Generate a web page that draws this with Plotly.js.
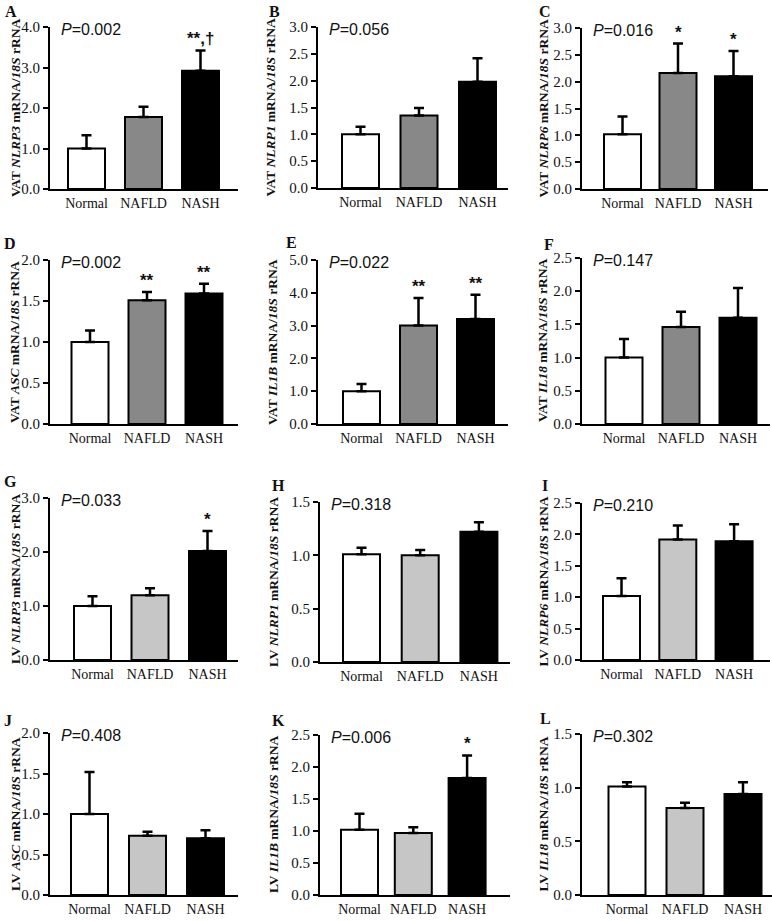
<!DOCTYPE html>
<html>
<head>
<meta charset="utf-8">
<script src="https://cdn.plot.ly/plotly-3.0.1.min.js"></script>
<style>html,body{margin:0;padding:0;background:#fff;}#chart{width:772px;height:921px;}</style>
</head>
<body>
<div id="chart"></div>
<script>
// ---------------- DATA ----------------
const categories = ['Normal', 'NAFLD', 'NASH'];
const panelLetters = ['A','B','C','D','E','F','G','H','I','J','K','L'];
const tissues = ['VAT','VAT','VAT','VAT','VAT','VAT','LV','LV','LV','LV','LV','LV'];
const genes = ['NLRP3','NLRP1','NLRP6','ASC','IL1B','IL18','NLRP3','NLRP1','NLRP6','ASC','IL1B','IL18'];
const pValues = ['0.002','0.056','0.016','0.002','0.022','0.147','0.033','0.318','0.210','0.408','0.006','0.302'];

const vatNLRP3 = [1.00, 1.78, 2.92];  const vatNLRP3Err = [0.33, 0.25, 0.50];  const vatNLRP3Sig = ['', '', '**,†'];
const vatNLRP1 = [1.00, 1.35, 1.98];  const vatNLRP1Err = [0.14, 0.14, 0.44];  const vatNLRP1Sig = ['', '', ''];
const vatNLRP6 = [1.02, 2.16, 2.10];  const vatNLRP6Err = [0.33, 0.55, 0.47];  const vatNLRP6Sig = ['', '*', '*'];
const vatASC   = [1.00, 1.51, 1.59];  const vatASCErr   = [0.14, 0.10, 0.12];  const vatASCSig   = ['', '**', '**'];
const vatIL1B  = [1.00, 3.00, 3.20];  const vatIL1BErr  = [0.22, 0.84, 0.74];  const vatIL1BSig  = ['', '**', '**'];
const vatIL18  = [1.00, 1.46, 1.60];  const vatIL18Err  = [0.28, 0.23, 0.45];  const vatIL18Sig  = ['', '', ''];
const lvNLRP3  = [1.00, 1.20, 2.02];  const lvNLRP3Err  = [0.18, 0.13, 0.37];  const lvNLRP3Sig  = ['', '', '*'];
const lvNLRP1  = [1.01, 1.00, 1.22];  const lvNLRP1Err  = [0.06, 0.05, 0.09];  const lvNLRP1Sig  = ['', '', ''];
const lvNLRP6  = [1.02, 1.92, 1.89];  const lvNLRP6Err  = [0.28, 0.22, 0.27];  const lvNLRP6Sig  = ['', '', ''];
const lvASC    = [1.00, 0.73, 0.70];  const lvASCErr    = [0.52, 0.05, 0.10];  const lvASCSig    = ['', '', ''];
const lvIL1B   = [1.02, 0.97, 1.83];  const lvIL1BErr   = [0.25, 0.09, 0.35];  const lvIL1BSig   = ['', '', '*'];
const lvIL18   = [1.01, 0.81, 0.94];  const lvIL18Err   = [0.04, 0.05, 0.11];  const lvIL18Sig   = ['', '', ''];

const yMax   = [4, 3, 3, 2, 5, 2.5, 3, 1.5, 2.5, 2, 2.5, 1.5];
const yDtick = [1, 0.5, 0.5, 0.5, 1, 0.5, 1, 0.5, 0.5, 0.5, 0.5, 0.5];

// ---------------- ASSEMBLY ----------------
const means = [vatNLRP3, vatNLRP1, vatNLRP6, vatASC, vatIL1B, vatIL18, lvNLRP3, lvNLRP1, lvNLRP6, lvASC, lvIL1B, lvIL18];
const errs  = [vatNLRP3Err, vatNLRP1Err, vatNLRP6Err, vatASCErr, vatIL1BErr, vatIL18Err, lvNLRP3Err, lvNLRP1Err, lvNLRP6Err, lvASCErr, lvIL1BErr, lvIL18Err];
const sigs  = [vatNLRP3Sig, vatNLRP1Sig, vatNLRP6Sig, vatASCSig, vatIL1BSig, vatIL18Sig, lvNLRP3Sig, lvNLRP1Sig, lvNLRP6Sig, lvASCSig, lvIL1BSig, lvIL18Sig];

const W = 772, H = 921;
// geometry per panel in px: [axisX, firstBarCenter, spacing, xEnd, yTop, yBot, titleX, letterX, letterY]
const geom = [
  [50, 86.5, 57, 238, 27, 189, 15, 3, 1],
  [318, 360.5, 58.5, 508, 27, 188, 270, 267, 1],
  [582, 622.5, 55.5, 768, 28, 189, 543, 537, 1],
  [50, 90, 57, 238, 260, 424, 15, 2, 233],
  [318, 361.5, 57, 508, 260, 424, 273, 284, 232],
  [582, 624, 57, 770, 258, 424, 543, 542, 234],
  [50, 92.5, 57.5, 238, 498, 660, 15, 2, 471],
  [320, 361.5, 58.7, 510, 502, 662, 273, 270, 475],
  [582, 621.5, 56.3, 770, 503, 660, 543, 540, 475],
  [50, 89.5, 58, 238, 733, 895, 15, 2, 710],
  [320, 359.5, 53.8, 510, 735, 895, 273, 270, 710],
  [582, 627, 58, 772, 734, 895, 543, 538, 708]
];
const barPx = 37;
const serif = 'Liberation Serif, Times New Roman, serif';
const sans = 'Liberation Sans, Arial, sans-serif';

const traces = [];
const annotations = [];
const layout = {
  width: W, height: H,
  margin: {l: 0, r: 0, t: 0, b: 0},
  paper_bgcolor: '#fff', plot_bgcolor: 'rgba(0,0,0,0)',
  showlegend: false,
  font: {family: serif, color: '#111', size: 14},
  annotations: annotations
};

for (let i = 0; i < 12; i++) {
  const g = geom[i];
  const [axX, c0, sp, xEnd, yTop, yBot, tX, lX, lY] = g;
  const n = i + 1;
  const xa = 'xaxis' + (n === 1 ? '' : n), ya = 'yaxis' + (n === 1 ? '' : n);
  const xr = 'x' + (n === 1 ? '' : n), yr = 'y' + (n === 1 ? '' : n);
  const lv = tissues[i] === 'LV';
  traces.push({
    type: 'bar', x: categories, y: means[i], xaxis: xr, yaxis: yr,
    width: barPx / sp,
    marker: {color: ['#ffffff', lv ? '#c6c6c6' : '#888888', '#000000'], line: {color: '#000', width: 2}},
    error_y: {type: 'data', symmetric: false, array: errs[i], arrayminus: [0, 0, 0], color: '#000', thickness: 2.5, width: 5},
    hoverinfo: 'skip'
  });
  layout[xa] = {
    domain: [axX / W, xEnd / W], anchor: yr,
    type: 'category', range: [(axX - c0) / sp, (xEnd - c0) / sp],
    showline: true, linecolor: '#000', linewidth: 2, ticks: '', showgrid: false, zeroline: false,
    tickfont: {family: serif, size: 14, color: '#111'}, fixedrange: true
  };
  layout[ya] = {
    domain: [1 - yBot / H, 1 - yTop / H], anchor: xr,
    range: [0, yMax[i]], dtick: yDtick[i], tick0: 0, tickformat: '.1f',
    showline: true, linecolor: '#000', linewidth: 2, ticks: 'outside', ticklen: 5, tickwidth: 2, tickcolor: '#000',
    showgrid: false, zeroline: false,
    tickfont: {family: serif, size: 15, color: '#111'}, fixedrange: true
  };
  // y title
  annotations.push({
    xref: 'paper', yref: 'paper', x: tX / W, y: 1 - ((yTop + yBot) / 2) / H,
    text: '<b>' + tissues[i] + ' <i>' + genes[i] + '</i> mRNA/<i>18S</i> rRNA</b>',
    textangle: -90, showarrow: false, xanchor: 'center', yanchor: 'middle',
    font: {family: serif, size: 13.5, color: '#111'}
  });
  // panel letter
  annotations.push({
    xref: 'paper', yref: 'paper', x: lX / W, y: 1 - lY / H,
    text: '<b>' + panelLetters[i] + '</b>', showarrow: false, xanchor: 'left', yanchor: 'top',
    font: {family: serif, size: 16, color: '#111'}
  });
  // P value
  annotations.push({
    xref: 'paper', yref: 'paper', x: (axX + 9) / W, y: 1 - (yTop + 2) / H,
    text: '<i>P</i>=' + pValues[i], showarrow: false, xanchor: 'left', yanchor: 'middle',
    font: {family: sans, size: 16, color: '#111'}
  });
  // significance
  for (let k = 0; k < 3; k++) {
    if (sigs[i][k]) {
      annotations.push({
        xref: xr, yref: yr, x: categories[k], y: means[i][k] + errs[i][k],
        text: '<b>' + sigs[i][k] + '</b>', showarrow: false, xanchor: 'center', yanchor: 'bottom', yshift: 0,
        font: {family: sans, size: 17, color: '#111'}
      });
    }
  }
}

Plotly.newPlot('chart', traces, layout, {staticPlot: true, displayModeBar: false});
</script>
</body>
</html>
